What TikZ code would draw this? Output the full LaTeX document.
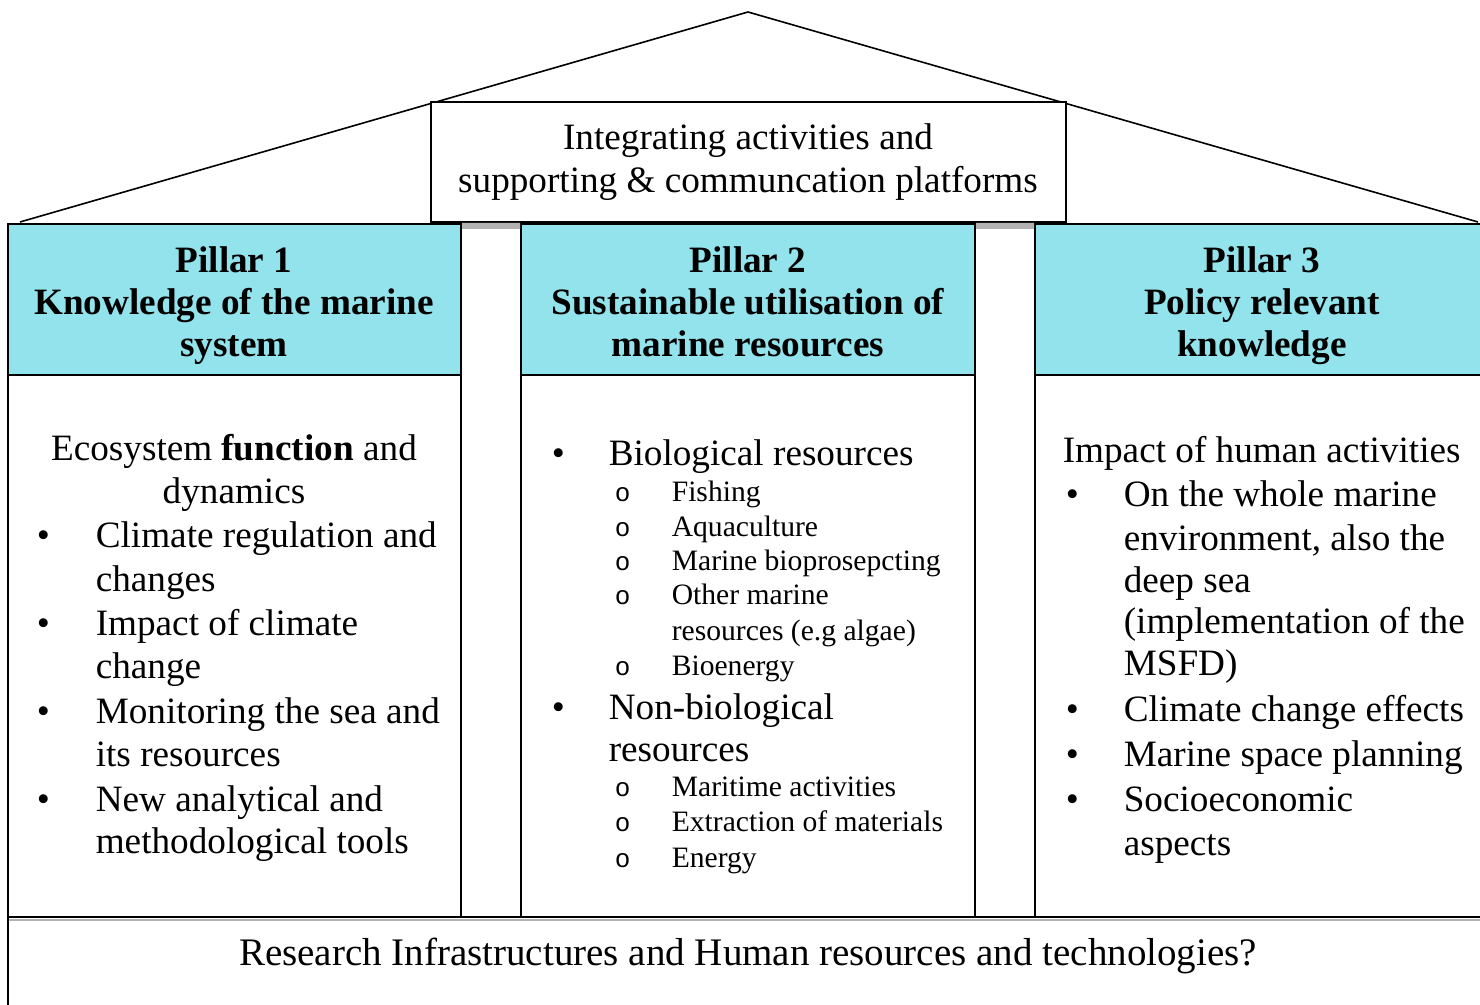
\documentclass[tikz,border=0pt]{standalone}
\usepackage{fontspec}
\setmainfont{Liberation Serif}
\newfontfamily\bulfont{Liberation Mono}
\definecolor{pillarblue}{RGB}{146,227,236}
\begin{document}
\begin{tikzpicture}[x=0.5pt,y=-0.5pt,line width=0.8pt,
	txt/.style={font=\fontsize{18.6}{21.5}\selectfont,inner sep=0pt,align=center},
	lst/.style={font=\fontsize{18.6}{22}\selectfont,inner sep=0pt,anchor=base west},
	sub/.style={font=\fontsize{14.8}{17.5}\selectfont,inner sep=0pt,anchor=base west},
	head/.style={font=\bfseries\fontsize{18.6}{21}\selectfont,inner sep=0pt,align=center}]
	\useasboundingbox (0,0) rectangle (1480,1005);
	% roof
	\draw (20,222) -- (748,12) -- (1478,222);
	\draw[fill=white] (431,102) rectangle (1066,222);
	\node[txt] (roof) at (748,162) {Integrating activities and\\supporting \& communcation platforms};
	% pillars
	\draw[fill=pillarblue] (8,224) rectangle (461,375);
	\draw[fill=pillarblue] (521,224) rectangle (975,375);
	\draw[fill=pillarblue] (1035,224) rectangle (1490,375);
	\draw (8,375) rectangle (461,917) (521,375) rectangle (975,917) (1035,375) rectangle (1490,917);
	\fill[gray!60] (462,223) rectangle (520,229) (976,223) rectangle (1034,229);
	\node[head] (h1) at (234,306) {Pillar 1\\Knowledge of the marine\\system};
	\node[head] (h2) at (748,302) {Pillar 2\\Sustainable utilisation of\\marine resources};
	\node[head] (h3) at (1262,306) {Pillar 3\\Policy relevant\\knowledge};
	% pillar 1
	\node[txt] (eco) at (234,473) {Ecosystem \textbf{function} and\\dynamics};
	\foreach \y/\t in {548/Climate regulation and,592/changes,636/Impact of climate,679/change,
		724/Monitoring the sea and,767/its resources,812/New analytical and,854/methodological tools}
		\node[lst] (p1l\y) at (95,\y) {\t};
	\foreach \y in {548,636,724,812}
		\node[lst] (p1b\y) at (36,\y) {•};
	% pillar 2
	\foreach \y/\t in {466/Biological resources,720/Non-biological,762/resources}
		\node[lst] (p2l\y) at (608,\y) {\t};
	\foreach \y in {466,720}
		\node[lst] (p2b\y) at (551,\y) {•};
	\foreach \y/\t in {502/Fishing,537/Aquaculture,571/Marine bioprosepcting,605/Other marine,
		641/resources (e.g algae),676/Bioenergy,797/Maritime activities,832/Extraction of materials,868/Energy}
		\node[sub] (p2s\y) at (671,\y) {\t};
	\foreach \y in {502,537,571,605,676,797,832,868}
		\node[sub,font=\bulfont\fontsize{13}{15}\selectfont] (p2o\y) at (614,\y) {o};
	% pillar 3
	\node[lst] (impact) at (1062,463) {Impact of human activities};
	\foreach \y/\t in {507/On the whole marine,551/{environment, also the},593/deep sea,634/(implementation of the,
		676/MSFD),722/Climate change effects,767/Marine space planning,812/Socioeconomic,856/aspects}
		\node[lst] (p3l\y) at (1123,\y) {\t};
	\foreach \y in {507,722,767,812}
		\node[lst] (p3b\y) at (1065,\y) {•};
	% base
	\draw (8,917) -- (1490,917);
	\draw[gray!60,line width=1.2pt] (9,920) -- (1490,920);
	\draw (8,917) -- (8,1010);
	\node[txt,font=\fontsize{19.5}{22}\selectfont] (infra) at (748,956) {Research Infrastructures and Human resources and technologies?};
\end{tikzpicture}
\end{document}
